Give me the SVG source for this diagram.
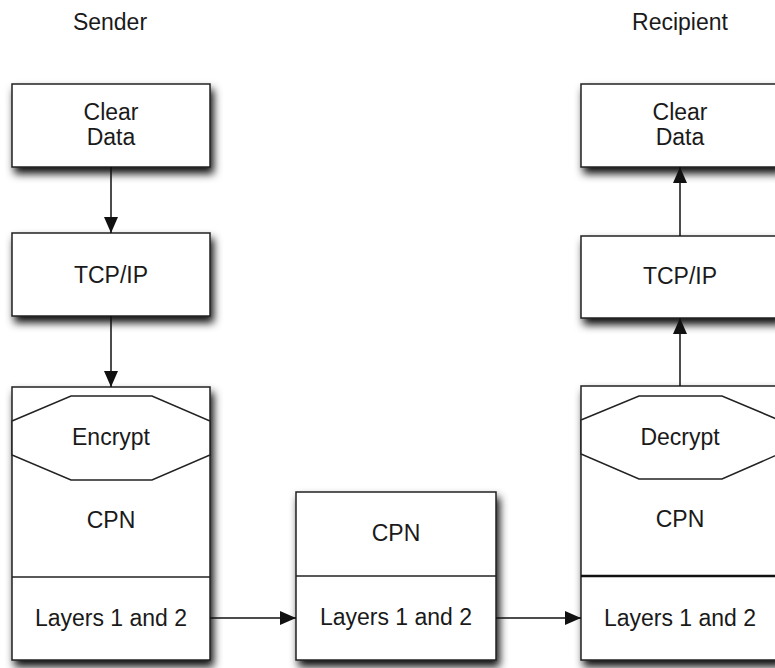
<svg xmlns="http://www.w3.org/2000/svg" width="775" height="668" viewBox="0 0 775 668">
<defs>
<filter id="sh" x="-20%" y="-20%" width="150%" height="150%">
<feDropShadow dx="3" dy="6" stdDeviation="4" flood-color="#000" flood-opacity="0.95"/>
</filter>
<marker id="ah" markerWidth="16" markerHeight="14" refX="16" refY="7" orient="auto" markerUnits="userSpaceOnUse">
<path d="M0,0 L16,7 L0,14 Z" fill="#111"/>
</marker>
<style>
.box{fill:#fff;stroke:#222;stroke-width:1.5;filter:url(#sh)}
.ln{fill:none;stroke:#222;stroke-width:1.5}
.oct{fill:#fff;stroke:#222;stroke-width:1.5}
text{font-family:"Liberation Sans",Arial,sans-serif;font-size:23px;fill:#1a1a1a;text-anchor:middle}
.con{fill:none;stroke:#111;stroke-width:1.5;marker-end:url(#ah)}
</style>
</defs>
<rect width="775" height="668" fill="#fff"/>
<text x="110" y="30">Sender</text>
<text x="680" y="30">Recipient</text>

<g id="s_clear"><rect class="box" x="12" y="84" width="198" height="83"/><text x="111" y="120">Clear</text><text x="111" y="145">Data</text></g>
<g id="s_tcp"><rect class="box" x="12" y="233" width="198" height="83"/><text x="111" y="283">TCP/IP</text></g>
<g id="s_cpn"><rect class="box" x="12" y="387" width="198" height="273"/>
<polygon class="oct" points="12,421 71,396 152,396 210,421 210,455 152,480 71,480 12,455"/>
<text x="111" y="445">Encrypt</text><text x="111" y="528">CPN</text>
<line class="ln" x1="12" y1="577" x2="210" y2="577"/><text x="111" y="626">Layers 1 and 2</text></g>

<g id="m_cpn"><rect class="box" x="296" y="492" width="200" height="168"/><text x="396" y="541">CPN</text>
<line class="ln" x1="296" y1="576" x2="496" y2="576"/><text x="396" y="625">Layers 1 and 2</text></g>

<g id="r_clear"><rect class="box" x="581" y="84" width="198" height="83"/><text x="680" y="120">Clear</text><text x="680" y="145">Data</text></g>
<g id="r_tcp"><rect class="box" x="581" y="236" width="198" height="82"/><text x="680" y="284">TCP/IP</text></g>
<g id="r_cpn"><rect class="box" x="581" y="386" width="198" height="274"/>
<polygon class="oct" points="581,420 639,396 722,396 779,420 779,454 722,479 639,479 581,454"/>
<text x="680" y="445">Decrypt</text><text x="680" y="527">CPN</text>
<line x1="581" y1="576" x2="779" y2="576" stroke="#111" stroke-width="2.5"/><text x="680" y="626">Layers 1 and 2</text></g>

<g id="connectors">
<line class="con" x1="111" y1="167" x2="111" y2="233"/>
<line class="con" x1="111" y1="316" x2="111" y2="387"/>
<line class="con" x1="210" y1="618" x2="296" y2="618"/>
<line class="con" x1="496" y1="618" x2="581" y2="618"/>
<line class="con" x1="680" y1="386" x2="680" y2="318"/>
<line class="con" x1="680" y1="236" x2="680" y2="167"/>
</g>
</svg>
